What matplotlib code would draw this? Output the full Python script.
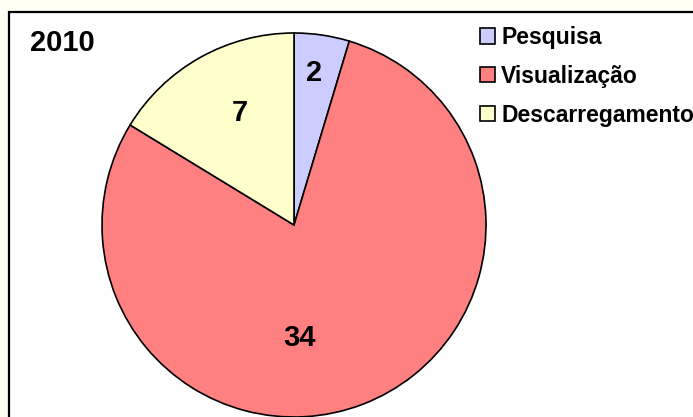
import matplotlib
matplotlib.use("Agg")
import matplotlib.pyplot as plt
from matplotlib.patches import Rectangle

# data
categories = ["Pesquisa", "Visualização", "Descarregamento"]
values = [2, 34, 7]
colors = ["#ccccff", "#ff8080", "#ffffcc"]
year = "2010"

plt.rcParams["font.family"] = ["Liberation Sans", "DejaVu Sans"]
plt.rcParams["font.weight"] = "bold"

fig = plt.figure(figsize=(6.93, 4.17), dpi=100)
fig.patch.set_facecolor("#fffff4")

# chart area frame (clipped by the picture on right and bottom)
frame = Rectangle((9 / 693, -0.2), 1.2, 1.2 - 12 / 417,
                  transform=fig.transFigure, facecolor="white",
                  edgecolor="black", lw=1.6, zorder=0)
fig.add_artist(frame)

ax = fig.add_axes([102 / 693, 0, 384 / 693, 384 / 417])

wedges, _ = ax.pie(values, colors=colors, startangle=90, counterclock=False,
                   radius=1, frame=False,
                   wedgeprops=dict(edgecolor="black", linewidth=1.2))
ax.set_xlim(-1, 1)
ax.set_ylim(-1, 1)
ax.axis("off")

# value labels, placed where the original puts them
label_pos = [(0.102, 0.794), (0.031, -0.59), (-0.281, 0.583)]
for v, (x, y) in zip(values, label_pos):
    ax.text(x, y, str(v), ha="center", va="center", fontsize=21,
            fontweight="bold")

fig.text(30 / 693, 1 - 43 / 417, year, ha="left", va="center",
         fontsize=21, fontweight="bold")

fig.legend(wedges, categories, loc="upper left",
           bbox_to_anchor=(480 / 693, 1 - 26 / 417), frameon=False,
           prop=dict(size=16.5, weight="bold"), handlelength=0.65,
           handleheight=0.65, handletextpad=0.28, labelspacing=0.69,
           borderpad=0, borderaxespad=0)

fig.savefig("out.png", dpi=100, facecolor=fig.get_facecolor())
